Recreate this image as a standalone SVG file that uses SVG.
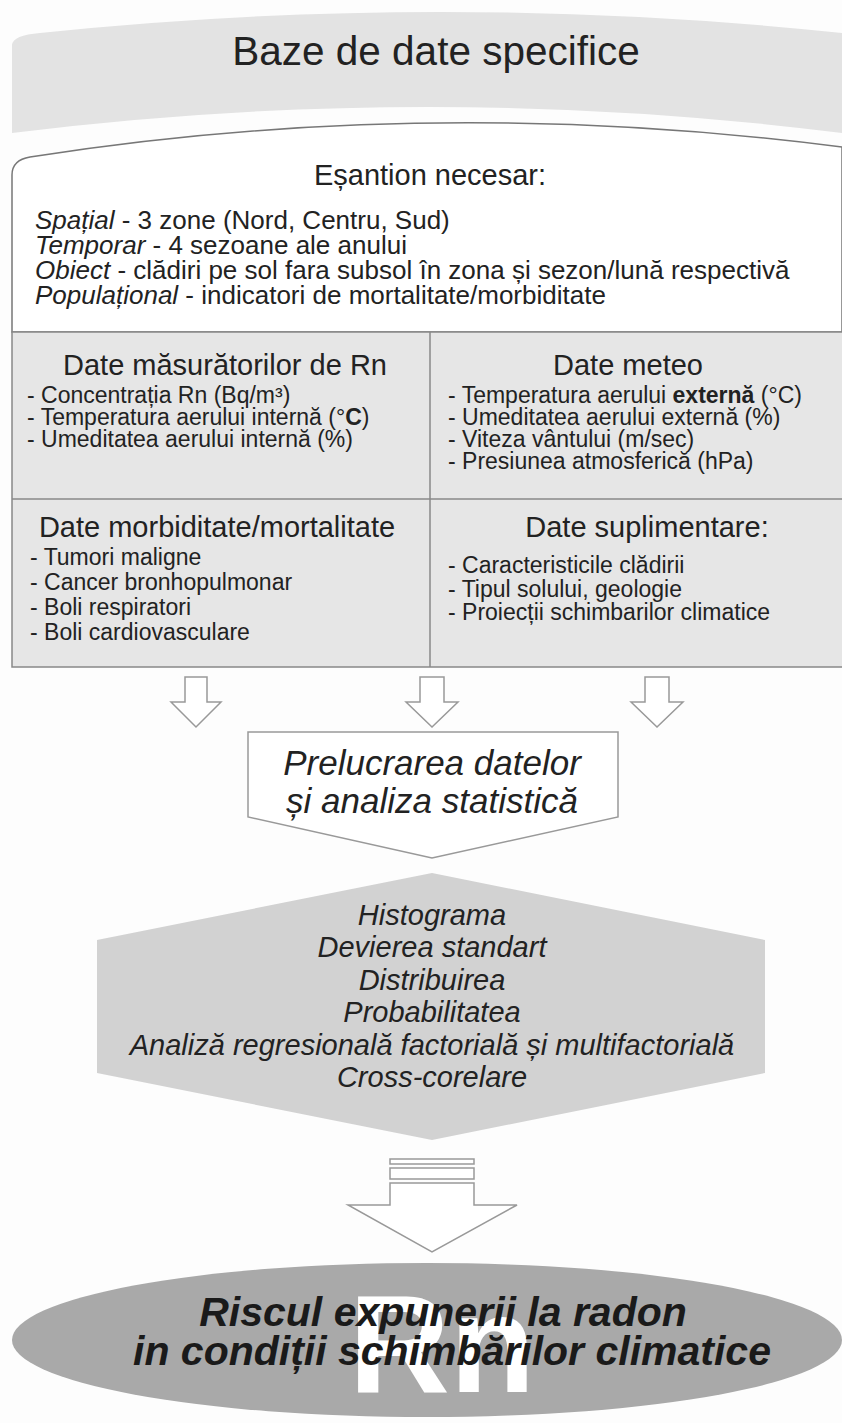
<svg xmlns="http://www.w3.org/2000/svg" width="842" height="1423" viewBox="0 0 842 1423">
<style>
text{font-family:"Liberation Sans",Arial,sans-serif;fill:#222}
.c{text-anchor:middle}
.i{font-style:italic}
.h{font-size:29px}
.it{font-size:23px}
.body{font-size:26px}
.hx{font-size:29px;font-style:italic;text-anchor:middle}
.arw{fill:#fff;stroke:#999;stroke-width:1.5}
</style>
<rect width="842" height="1423" fill="#fdfdfd"/>
<g id="banner">
<path d="M12,133 L12,45 Q13,35 40,33 Q441,-9 842,33 L842,133 Q430,81 12,133 Z" fill="#e3e3e3"/>
<text class="c" x="436" y="65" font-size="40.5">Baze de date specifice</text>
</g>
<g id="esantion">
<path d="M12,332 L12,175 Q12,160 30,157 Q430,94 842,147 L842,332 Z" fill="#fff" stroke="#777" stroke-width="1.5"/>
<text class="c" x="430" y="185" font-size="29">Eșantion necesar:</text>
<text class="body" x="35" y="229"><tspan class="i">Spațial</tspan> - 3 zone (Nord, Centru, Sud)</text>
<text class="body" x="35" y="254"><tspan class="i">Temporar</tspan> - 4 sezoane ale anului</text>
<text class="body" x="35" y="279"><tspan class="i">Obiect</tspan> - clădiri pe sol fara subsol în zona și sezon/lună respectivă</text>
<text class="body" x="35" y="304"><tspan class="i">Populațional</tspan> - indicatori de mortalitate/morbiditate</text>
</g>
<g id="table">
<rect x="12" y="332" width="840" height="335" fill="#e6e6e6" stroke="#888" stroke-width="1.5"/>
<line x1="430" y1="332" x2="430" y2="667" stroke="#888" stroke-width="1.5"/>
<line x1="12" y1="499" x2="842" y2="499" stroke="#888" stroke-width="1.5"/>
</g>
<g id="rn-data">
<text class="c h" x="225" y="375">Date măsurătorilor de Rn</text>
<text class="it" x="27" y="403">- Concentrația Rn (Bq/m³)</text>
<text class="it" x="27" y="425">- Temperatura aerului internă (°<tspan font-weight="bold">C</tspan>)</text>
<text class="it" x="27" y="447">- Umeditatea aerului internă (%)</text>
</g>
<g id="meteo">
<text class="c h" x="628" y="375">Date meteo</text>
<text class="it" x="448" y="403">- Temperatura aerului <tspan font-weight="bold">externă</tspan> (°C)</text>
<text class="it" x="448" y="425">- Umeditatea aerului externă (%)</text>
<text class="it" x="448" y="447">- Viteza vântului (m/sec)</text>
<text class="it" x="448" y="469">- Presiunea atmosferică (hPa)</text>
</g>
<g id="morbiditate">
<text class="c h" x="217" y="537">Date morbiditate/mortalitate</text>
<text class="it" x="30" y="565">- Tumori maligne</text>
<text class="it" x="30" y="590">- Cancer bronhopulmonar</text>
<text class="it" x="30" y="615">- Boli respiratori</text>
<text class="it" x="30" y="640">- Boli cardiovasculare</text>
</g>
<g id="suplimentare">
<text class="c h" x="647" y="537">Date suplimentare:</text>
<text class="it" x="448" y="573">- Caracteristicile clădirii</text>
<text class="it" x="448" y="597">- Tipul solului, geologie</text>
<text class="it" x="448" y="620">- Proiecții schimbarilor climatice</text>
</g>
<g id="connectors">
<path class="arw" d="M185,677 H207 V702 H221 L196,727 L171,702 H185 Z"/>
<path class="arw" d="M420,677 H444 V702 H458 L432,727 L406,702 H420 Z"/>
<path class="arw" d="M645,677 H669 V702 H683 L657,727 L631,702 H645 Z"/>
<rect class="arw" x="390" y="1159" width="84" height="5"/>
<rect class="arw" x="390" y="1168" width="84" height="11"/>
<path class="arw" d="M390,1183 H474 V1205 H517 L432,1252 L348,1205 H390 Z"/>
</g>
<g id="prelucrare">
<path d="M248,732 H618 V817 L432,858 L248,817 Z" fill="#fff" stroke="#999" stroke-width="1.5"/>
<text class="c i" x="432" y="775" font-size="35">Prelucrarea datelor</text>
<text class="c i" x="432" y="813" font-size="35">și analiza statistică</text>
</g>
<g id="metode">
<path d="M432,873 L765,940 V1073 L432,1140 L97,1073 V940 Z" fill="#d2d2d2"/>
<text class="hx" x="432" y="925">Histograma</text>
<text class="hx" x="432" y="957">Devierea standart</text>
<text class="hx" x="432" y="990">Distribuirea</text>
<text class="hx" x="432" y="1022">Probabilitatea</text>
<text class="hx" x="432" y="1055">Analiză regresională factorială și multifactorială</text>
<text class="hx" x="432" y="1087">Cross-corelare</text>
</g>
<g id="risc">
<ellipse cx="427" cy="1340" rx="415" ry="77" fill="#a9a9a9"/>
<text class="c" x="442" y="1392" font-size="140" font-weight="bold" style="fill:#fff">Rn</text>
<text class="c i" x="443" y="1326" font-size="41" font-weight="bold" style="fill:#1a1a1a">Riscul expunerii la radon</text>
<text class="c i" x="452" y="1365" font-size="41" font-weight="bold" style="fill:#1a1a1a">in condiții schimbărilor climatice</text>
</g>
</svg>
